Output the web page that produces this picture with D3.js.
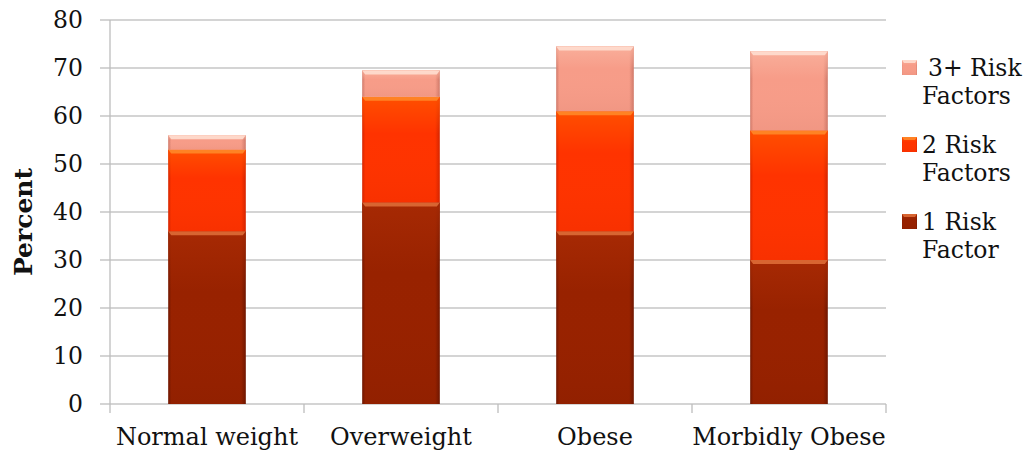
<!DOCTYPE html>
<html>
<head>
<meta charset="utf-8">
<script src="https://cdn.jsdelivr.net/npm/d3@7"></script>
<style>
  html, body { margin: 0; padding: 0; background: #fff; }
  svg { display: block; }
  text { font-family: "DejaVu Serif", "Liberation Serif", serif; fill: #111; }
</style>
</head>
<body>
<svg id="chart" width="1027" height="453"></svg>
<script>
// Share of adults with cardiovascular risk factors, by weight class
const categories = ["Normal weight", "Overweight", "Obese", "Morbidly Obese"];
const seriesNames = ["1 Risk Factor", "2 Risk Factors", "3+ Risk Factors"];
const oneRisk = [36, 42, 36, 30];
const twoRisk = [17, 22, 25, 27];
const threeRisk = [3, 5.5, 13.5, 16.5];
const yTicks = [0, 10, 20, 30, 40, 50, 60, 70, 80];
// legend entries, top to bottom; indent nudges the first line right
const legendLines = [
  { key: "3+ Risk Factors", lines: ["3+ Risk", "Factors"], indent: 6 },
  { key: "2 Risk Factors", lines: ["2 Risk", "Factors"], indent: 0 },
  { key: "1 Risk Factor", lines: ["1 Risk", "Factor"], indent: 0 }
];

const rows = categories.map((c, i) => ({
  category: c,
  "1 Risk Factor": oneRisk[i],
  "2 Risk Factors": twoRisk[i],
  "3+ Risk Factors": threeRisk[i]
}));

const svg = d3.select("#chart");

const x = d3.scaleBand().domain(categories).range([110, 886]).padding(0);
const y = d3.scaleLinear().domain([0, 80]).range([404, 20]);

// colour scheme per series: base, edge (darker), bevel highlight
const palette = {
  "1 Risk Factor":   { base: "#982200", edge: "#6e1600", top: "#e0703a", hi: "#a82a04" },
  "2 Risk Factors":  { base: "#ff3300", edge: "#d42400", top: "#ff8c2a", hi: "#ff5200" },
  "3+ Risk Factors": { base: "#f79c88", edge: "#cf7868", top: "#ffe0d4", hi: "#f9b09c" }
};

const defs = svg.append("defs");
seriesNames.forEach((name, i) => {
  const p = palette[name];
  const h = defs.append("linearGradient").attr("id", "side" + i)
    .attr("x1", 0).attr("x2", 1).attr("y1", 0).attr("y2", 0);
  h.append("stop").attr("offset", "0").attr("stop-color", p.edge);
  h.append("stop").attr("offset", "0.04").attr("stop-color", p.base);
  h.append("stop").attr("offset", "0.94").attr("stop-color", p.base);
  h.append("stop").attr("offset", "1").attr("stop-color", p.edge);
  const v = defs.append("linearGradient").attr("id", "vert" + i)
    .attr("x1", 0).attr("x2", 0).attr("y1", 0).attr("y2", 1);
  v.append("stop").attr("offset", "0").attr("stop-color", p.hi).attr("stop-opacity", 0.9);
  v.append("stop").attr("offset", "0.35").attr("stop-color", p.hi).attr("stop-opacity", 0);
  v.append("stop").attr("offset", "1").attr("stop-color", p.edge).attr("stop-opacity", 0.15);
});

// gridlines
svg.append("g")
  .selectAll("line").data(yTicks).join("line")
  .attr("x1", 100).attr("x2", 886)
  .attr("y1", d => y(d)).attr("y2", d => y(d))
  .attr("stroke", "#c6c6c6").attr("stroke-width", 1.3);

// y axis line
svg.append("line")
  .attr("x1", 110).attr("x2", 110).attr("y1", y(80)).attr("y2", y(0))
  .attr("stroke", "#bdbdbd").attr("stroke-width", 1.3);

// category boundary ticks on the x axis
const bounds = categories.map(c => x(c)).concat([x.range()[1]]);
svg.append("g").selectAll("line").data(bounds).join("line")
  .attr("x1", d => d).attr("x2", d => d)
  .attr("y1", y(0)).attr("y2", y(0) + 9)
  .attr("stroke", "#bdbdbd").attr("stroke-width", 1.3);

// y tick labels
svg.append("g").selectAll("text").data(yTicks).join("text")
  .attr("x", 83).attr("y", d => y(d))
  .attr("dy", "0.36em")
  .attr("text-anchor", "end")
  .attr("font-size", 23.5)
  .text(d => d);

// axis title
svg.append("text")
  .attr("transform", "translate(32,222) rotate(-90)")
  .attr("text-anchor", "middle")
  .attr("font-size", 25)
  .attr("font-weight", "bold")
  .text("Percent");

// x labels
svg.append("g").selectAll("text").data(categories).join("text")
  .attr("x", d => x(d) + x.bandwidth() / 2)
  .attr("y", 445)
  .attr("text-anchor", "middle")
  .attr("font-size", 24)
  .text(d => d);

// stacked bars
const stack = d3.stack().keys(seriesNames)(rows);
const barW = x.bandwidth() * 0.4;
const bevel = 4;

stack.forEach((layer, i) => {
  const g = svg.append("g");
  const segs = g.selectAll("g").data(layer).join("g");
  segs.append("rect")
    .attr("x", d => x(d.data.category) + (x.bandwidth() - barW) / 2)
    .attr("y", d => y(d[1]))
    .attr("width", barW)
    .attr("height", d => y(d[0]) - y(d[1]))
    .attr("fill", `url(#side${i})`);
  segs.append("rect")
    .attr("x", d => x(d.data.category) + (x.bandwidth() - barW) / 2)
    .attr("y", d => y(d[1]))
    .attr("width", barW)
    .attr("height", d => y(d[0]) - y(d[1]))
    .attr("fill", `url(#vert${i})`);
  // top bevel
  segs.append("path")
    .attr("d", d => {
      const x0 = x(d.data.category) + (x.bandwidth() - barW) / 2;
      const y0 = y(d[1]);
      return `M${x0},${y0}H${x0 + barW}L${x0 + barW - 3},${y0 + bevel}H${x0 + 3}Z`;
    })
    .attr("fill", palette[seriesNames[i]].top)
    .attr("opacity", 0.85);
});

// legend
const lg = svg.append("g");
legendLines.forEach((item, i) => {
  const idx = seriesNames.indexOf(item.key);
  const p = palette[item.key];
  const top = 60 + i * 77;
  const sx = 902, sw = 15;
  lg.append("rect").attr("x", sx).attr("y", top).attr("width", sw).attr("height", sw)
    .attr("fill", `url(#side${idx})`);
  lg.append("rect").attr("x", sx).attr("y", top).attr("width", sw).attr("height", sw)
    .attr("fill", `url(#vert${idx})`);
  lg.append("path")
    .attr("d", `M${sx},${top}H${sx + sw}L${sx + sw - 2},${top + 3}H${sx + 2}Z`)
    .attr("fill", p.top).attr("opacity", 0.85);
  item.lines.forEach((t, j) => {
    lg.append("text")
      .attr("x", 922 + (j === 0 ? item.indent : 0)).attr("y", top + 16 + j * 28)
      .attr("font-size", 23.5)
      .text(t);
  });
});
</script>
</body>
</html>
